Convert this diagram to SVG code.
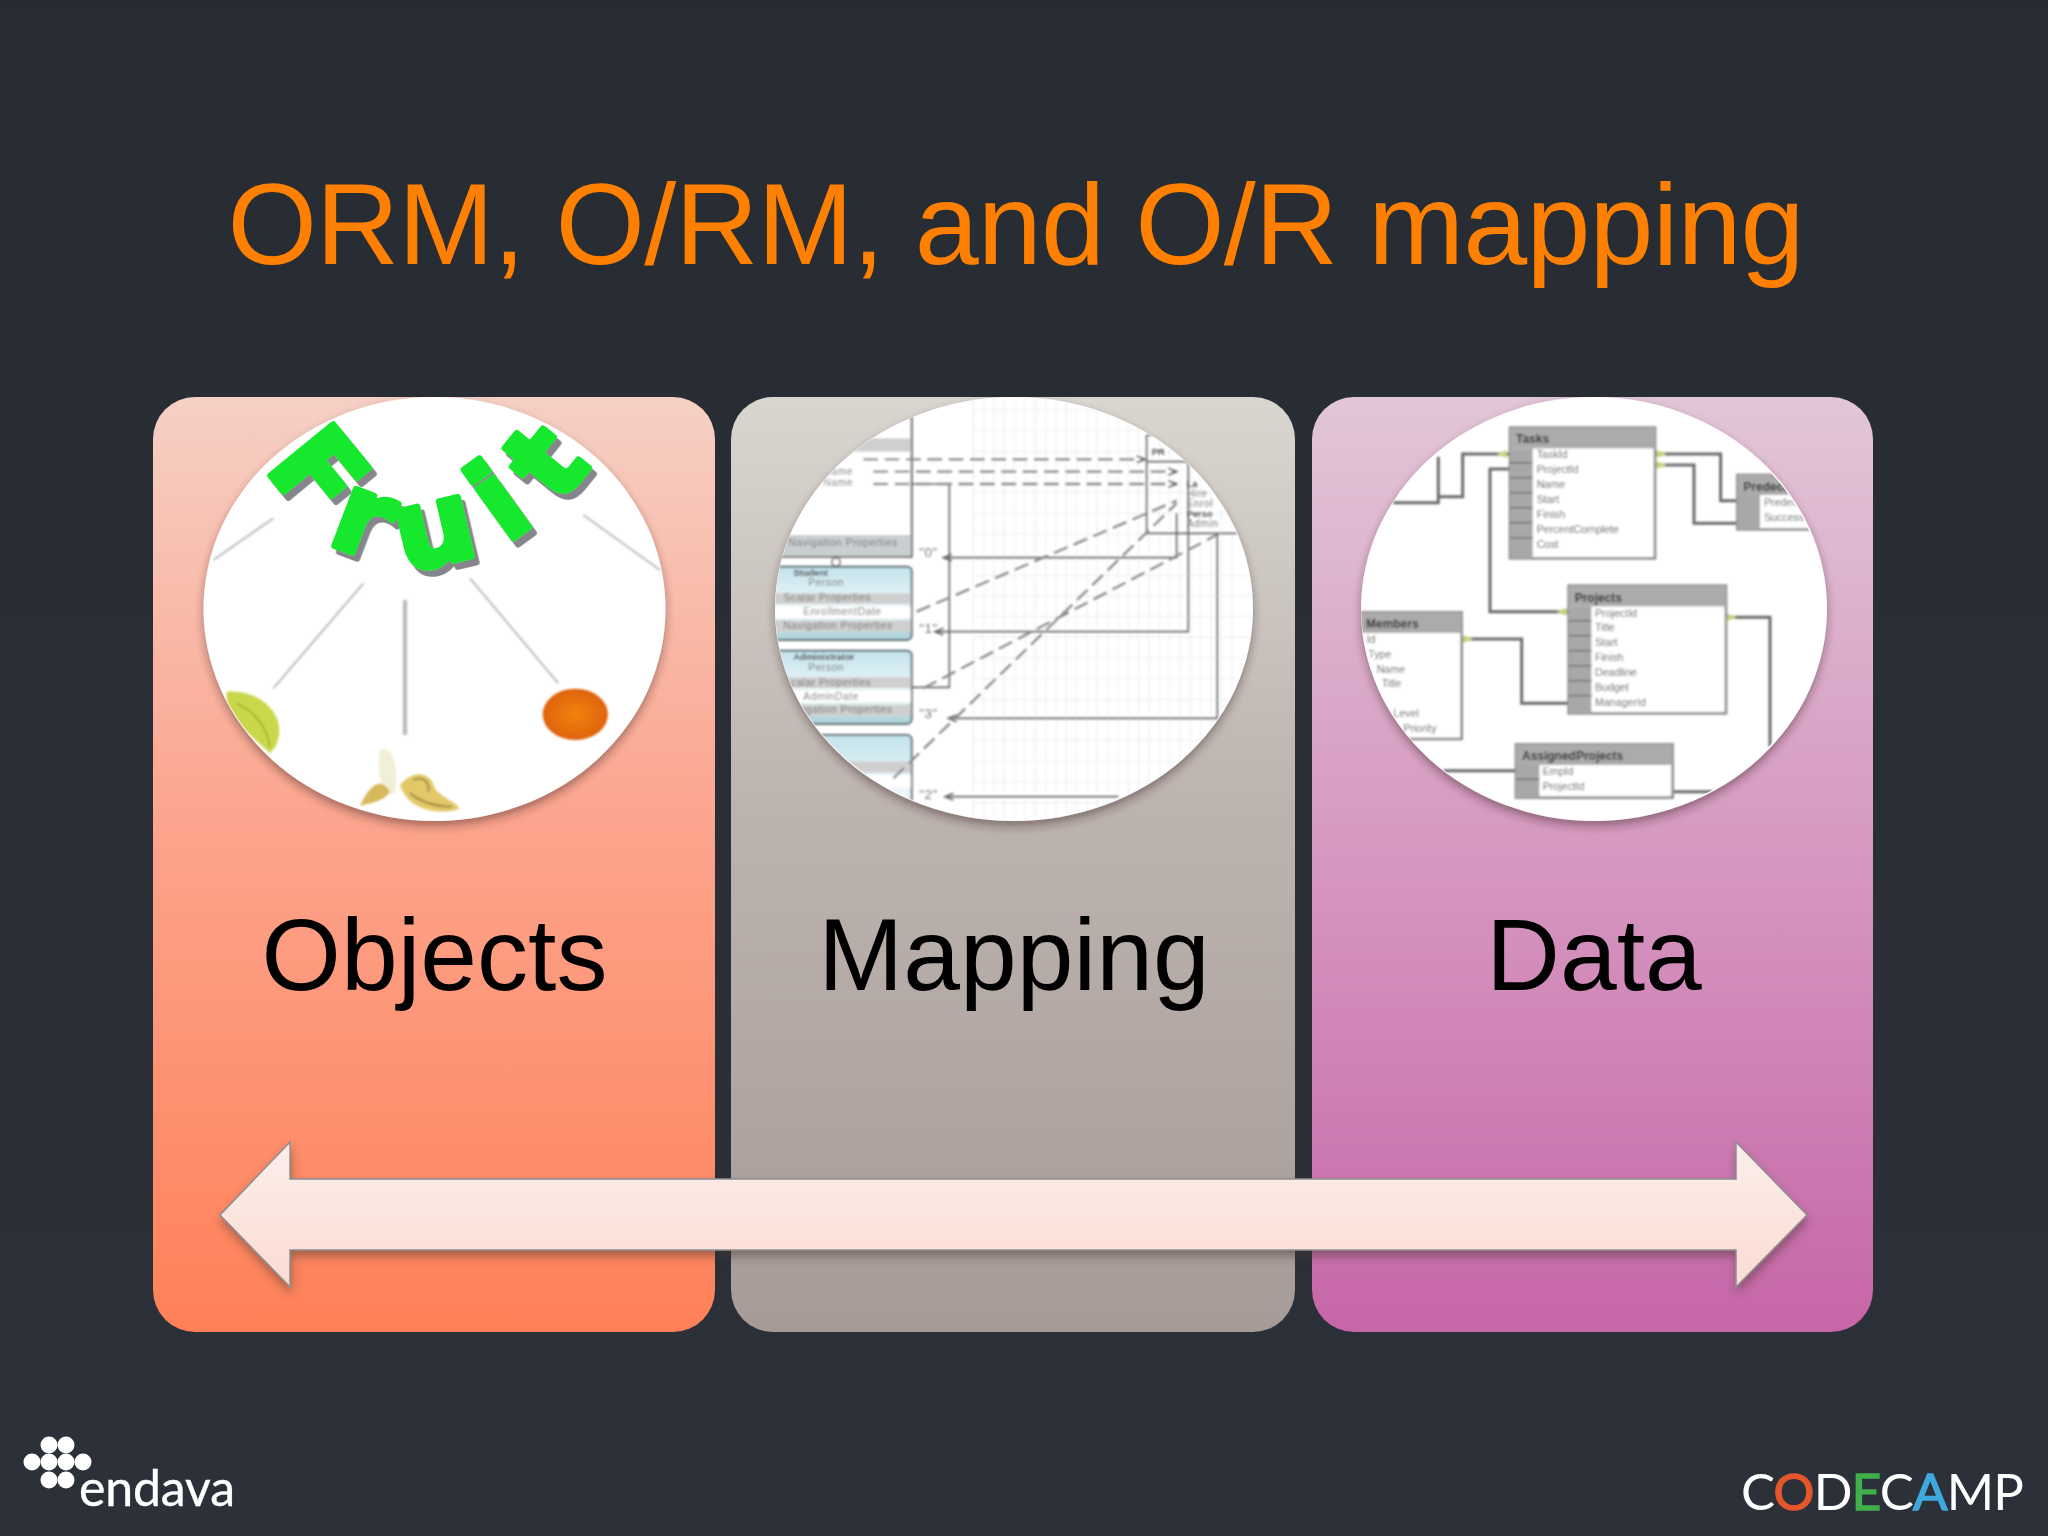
<svg xmlns="http://www.w3.org/2000/svg" width="2048" height="1536" viewBox="0 0 2048 1536">
<style>
.sans{font-family:"Liberation Sans",Arial,sans-serif}
.lbl{font-family:"Liberation Sans",Arial,sans-serif;font-size:102px;fill:#000;text-anchor:middle}
.fl{stroke:#b9bcc0;stroke-width:6;fill:none}
.gr{stroke:#e3e6e8;stroke-width:2;fill:none}
.dk{stroke:#666;stroke-width:5;fill:none}
.ds{stroke:#8a8a8a;stroke-width:7;stroke-dasharray:44 20;fill:none}
.m{font-family:"Liberation Sans",Arial,sans-serif;font-size:31px;letter-spacing:1.5px;fill:#777}
.mb{font-family:"Liberation Sans",Arial,sans-serif;font-size:28px;font-weight:bold;fill:#444}
.q{font-size:40px}
.tb{fill:#fff;stroke:#8f8f8f;stroke-width:8}
.hd{fill:#ababab}
.col{fill:#a8a8a8}
.ln{stroke:#6a6a6a;stroke-width:9;fill:none}
.t{font-family:"Liberation Sans",Arial,sans-serif;font-size:32px;fill:#5f5f5f}
.th{font-family:"Liberation Sans",Arial,sans-serif;font-size:36px;font-weight:bold;fill:#2f2f2f}
</style>
<defs>
<linearGradient id="bg" x1="0" y1="0" x2="0" y2="1"><stop offset="0" stop-color="#272c33"/><stop offset="1" stop-color="#2c3039"/></linearGradient>
<linearGradient id="g1" x1="0" y1="0" x2="0" y2="1"><stop offset="0" stop-color="#f6d0c5"/><stop offset=".45" stop-color="#fca58e"/><stop offset="1" stop-color="#ff8057"/></linearGradient>
<linearGradient id="g2" x1="0" y1="0" x2="0" y2="1"><stop offset="0" stop-color="#d9d6cf"/><stop offset=".45" stop-color="#bcb2ae"/><stop offset="1" stop-color="#a69b97"/></linearGradient>
<linearGradient id="g3" x1="0" y1="0" x2="0" y2="1"><stop offset="0" stop-color="#e2c6d8"/><stop offset=".45" stop-color="#d79cc2"/><stop offset="1" stop-color="#c766a8"/></linearGradient>
<linearGradient id="ga" x1="0" y1="0" x2="0" y2="1"><stop offset="0" stop-color="#fbeeea"/><stop offset="1" stop-color="#fcdcd3"/></linearGradient>
<linearGradient id="gb" x1="0" y1="0" x2="0" y2="1"><stop offset="0" stop-color="#c3e3ec"/><stop offset=".6" stop-color="#f0f8fa"/><stop offset="1" stop-color="#a9cfd6"/></linearGradient>
<radialGradient id="go" cx=".5" cy=".5" r=".55"><stop offset="0" stop-color="#f08412"/><stop offset="1" stop-color="#dd5f08"/></radialGradient>
<filter id="ps" x="-10%" y="-10%" width="120%" height="120%"><feDropShadow dx="0" dy="5" stdDeviation="5" flood-color="#3a2020" flood-opacity=".45"/></filter>
<filter id="as" x="-5%" y="-20%" width="110%" height="140%"><feDropShadow dx="1" dy="6" stdDeviation="5" flood-color="#40302c" flood-opacity=".45"/></filter>
<filter id="bl" x="-5%" y="-5%" width="110%" height="110%"><feGaussianBlur stdDeviation="2.4"/></filter>
<filter id="fs" x="-10%" y="-10%" width="120%" height="120%"><feDropShadow dx="14" dy="18" stdDeviation="1" flood-color="#85858c" flood-opacity="1"/></filter>
<clipPath id="c1"><ellipse cx="764" cy="686" rx="692" ry="634"/></clipPath>
<clipPath id="c2"><ellipse cx="762" cy="686" rx="716" ry="634"/></clipPath>
<clipPath id="c3"><ellipse cx="760" cy="686" rx="696" ry="634"/></clipPath>
<path id="arc" d="M 262 255 C 380 470 560 590 780 550 C 960 520 1130 420 1280 190"/>
</defs>

<rect id="background" width="2048" height="1536" fill="url(#bg)"/>

<text id="title" class="sans" x="1016" y="264" font-size="115" text-anchor="middle" fill="#ff8000" textLength="1577" lengthAdjust="spacing">ORM, O/RM, and O/R mapping</text>

<g id="panel-objects">
<rect x="153" y="397" width="562" height="935" rx="42" fill="url(#g1)"/>
<g filter="url(#ps)"><ellipse cx="434.5" cy="609" rx="231" ry="212" fill="#fff"/></g>
<g transform="translate(180 380) scale(.33333)" clip-path="url(#c1)">
<g filter="url(#bl)">
<path class="fl" d="M100 540 280 415M280 925 550 610M1210 405 1440 570M870 595 1135 910"/>
<path class="fl" style="stroke-width:13" d="M675 660V1065"/>
<path d="M140 935C225 930 295 980 298 1050C298 1085 285 1105 270 1120L140 1000Z" fill="#c9d84c"/>
<path d="M170 970C220 990 260 1040 270 1100" stroke="#a4b52c" stroke-width="6" fill="none"/>
<ellipse cx="1186" cy="1003" rx="98" ry="77" fill="url(#go)"/>
<path d="M600 1110C645 1095 655 1170 645 1240C620 1255 585 1200 600 1110Z" fill="#f2efd8"/>
<path d="M540 1278C565 1222 600 1185 630 1235C612 1265 570 1268 540 1278Z" fill="#d7b85a"/>
<path d="M660 1215C700 1165 755 1175 765 1228C795 1258 832 1268 838 1287C780 1305 685 1295 660 1215Z" fill="#e3c868"/>
<path d="M700 1200C730 1185 750 1210 745 1235M690 1240C730 1270 780 1280 815 1280" stroke="#a08a42" stroke-width="6" fill="none"/>
</g>
<g filter="url(#fs)"><text font-family="'DejaVu Sans',sans-serif" font-weight="bold" font-size="335" fill="#14e82e" stroke="#14e82e" stroke-width="18" stroke-linejoin="round"><textPath href="#arc" letter-spacing="78">Fruit</textPath></text></g>
</g>
<text class="lbl" x="434.5" y="990">Objects</text>
</g>

<g id="panel-mapping">
<rect x="731" y="397" width="564" height="935" rx="42" fill="url(#g2)"/>
<g filter="url(#ps)"><ellipse cx="1014" cy="609" rx="239" ry="212" fill="#fff"/></g>
<g transform="translate(760 380) scale(.33333)" clip-path="url(#c2)">
<g filter="url(#bl)">
<path class="gr" d="M640 50V1320M671 50V1320M702 50V1320M733 50V1320M764 50V1320M795 50V1320M826 50V1320M857 50V1320M888 50V1320M919 50V1320M950 50V1320M981 50V1320M1012 50V1320M1043 50V1320M1074 50V1320M1105 50V1320M1136 50V1320M1167 50V1320M1198 50V1320M1229 50V1320M1260 50V1320M1291 50V1320M1322 50V1320M1353 50V1320M1384 50V1320M1415 50V1320"/>
<path class="gr" d="M640 90H1480M640 152H1480M640 214H1480M640 338H1480M640 400H1480M640 462H1480M640 586H1480M640 648H1480M640 710H1480M640 772H1480M640 834H1480M640 896H1480M640 958H1480M640 1082H1480M640 1144H1480M640 1206H1480M640 1268H1480"/>
<rect x="0" y="110" width="455" height="420" fill="#fff" stroke="#5a5a5a" stroke-width="6"/>
<rect x="0" y="175" width="452" height="40" fill="#cfcfcf"/>
<rect x="0" y="465" width="452" height="62" fill="#c9cfd0"/>
<rect x="0" y="560" width="455" height="220" rx="14" fill="url(#gb)" stroke="#5c6c72" stroke-width="6"/>
<rect x="0" y="640" width="452" height="32" fill="#cfcfcf"/><rect x="0" y="680" width="452" height="36" fill="#fff"/><rect x="0" y="722" width="452" height="32" fill="#cfcfcf"/>
<rect x="0" y="812" width="455" height="220" rx="14" fill="url(#gb)" stroke="#5c6c72" stroke-width="6"/>
<rect x="0" y="892" width="452" height="32" fill="#cfcfcf"/><rect x="0" y="932" width="452" height="36" fill="#fff"/><rect x="0" y="975" width="452" height="32" fill="#cfcfcf"/>
<rect x="0" y="1065" width="455" height="300" rx="14" fill="url(#gb)" stroke="#5c6c72" stroke-width="6"/>
<rect x="0" y="1145" width="452" height="32" fill="#cfcfcf"/><rect x="0" y="1185" width="452" height="38" fill="#fff"/>
<circle cx="228" cy="546" r="12" fill="#fff" stroke="#666" stroke-width="5"/>
<path class="dk" d="M455 312H568V922H455M555 533H1250V400M530 755H1285V245H1160V165M1160 165V460H1430M575 1015H1372V462M560 1250H1075M1160 165H1230"/>
<path class="ds" d="M310 238H1155M340 275H1250M340 312H1250M470 695 1250 362M490 925 1370 465M400 1195 1250 370"/>
<path class="dk" d="M1130 228 1155 238 1130 248M1225 265 1250 275 1225 285M1225 302 1250 312 1225 322M550 745 525 755 550 765M575 523 550 533 575 543M590 1005 565 1015 590 1025M580 1240 555 1250 580 1260"/>
<text class="mb" x="100" y="588" fill="#17505c">Student</text>
<text class="m" x="145" y="618">Person</text>
<text class="m" x="70" y="664">Scalar Properties</text>
<text class="m" x="130" y="706">EnrollmentDate</text>
<text class="m" x="70" y="747">Navigation Properties</text>
<text class="m" x="85" y="499">Navigation Properties</text>
<text class="mb" x="100" y="841" fill="#17505c">Administrator</text>
<text class="m" x="145" y="872">Person</text>
<text class="m" x="70" y="918">Scalar Properties</text>
<text class="m" x="130" y="960">AdminDate</text>
<text class="m" x="70" y="1000">Navigation Properties</text>
<text class="m" x="190" y="284">Name</text>
<text class="m" x="190" y="318">Name</text>
<text class="m q" x="478" y="532">"0"</text>
<text class="m q" x="478" y="760">"1"</text>
<text class="m q" x="478" y="1014">"3"</text>
<text class="m q" x="478" y="1256">"2"</text>
<text class="mb" x="1175" y="226">PR</text>
<text class="mb" x="1280" y="320">La</text>
<text class="m" x="1280" y="350">Hire</text>
<text class="m" x="1280" y="380">Enrol</text>
<text class="mb" x="1280" y="412">Perso</text>
<text class="m" x="1280" y="442">Admin</text>
</g>
</g>
<text class="lbl" x="1014" y="990">Mapping</text>
</g>

<g id="panel-data">
<rect x="1312" y="397" width="561" height="935" rx="42" fill="url(#g3)"/>
<g filter="url(#ps)"><ellipse cx="1594" cy="609" rx="233" ry="212" fill="#fff"/></g>
<g transform="translate(1340 380) scale(.33333)" clip-path="url(#c3)">
<g filter="url(#bl)">
<path class="ln" d="M160 368H295V230M295 350H368V222H510M945 222H1142V362H1195M945 255H1062V430H1195M510 267H450V695H686M365 777H545V970H686M1158 712H1290V1100M310 1172H528M998 1235H1120"/>
<path d="M470 222 500 210 500 234ZM980 222 950 210 950 234ZM980 255 950 243 950 267ZM650 695 680 683 680 707ZM400 777 370 765 370 789ZM1190 712 1160 700 1160 724Z" fill="#c9d27a"/>
<rect class="tb" x="510" y="143" width="435" height="392"/><rect class="hd" x="510" y="143" width="435" height="62"/><rect class="col" x="510" y="205" width="68" height="330"/>
<path d="M510 248H578M510 293H578M510 338H578M510 383H578M510 428H578M510 473H578" stroke="#666" stroke-width="4"/>
<text class="th" x="528" y="190">Tasks</text>
<text class="t" x="590" y="235">TaskId</text><text class="t" x="590" y="279">ProjectId</text><text class="t" x="590" y="324">Name</text><text class="t" x="590" y="369">Start</text><text class="t" x="590" y="414">Finish</text><text class="t" x="590" y="459">PercentComplete</text><text class="t" x="590" y="503">Cost</text>
<rect class="tb" x="686" y="617" width="472" height="383"/><rect class="hd" x="686" y="617" width="472" height="62"/><rect class="col" x="686" y="679" width="68" height="321"/>
<path d="M686 722H754M686 767H754M686 812H754M686 857H754M686 902H754M686 947H754" stroke="#666" stroke-width="4"/>
<text class="th" x="704" y="665">Projects</text>
<text class="t" x="765" y="710">ProjectId</text><text class="t" x="765" y="754">Title</text><text class="t" x="765" y="799">Start</text><text class="t" x="765" y="844">Finish</text><text class="t" x="765" y="889">Deadline</text><text class="t" x="765" y="934">Budget</text><text class="t" x="765" y="978">ManagerId</text>
<rect class="tb" x="-10" y="697" width="375" height="380"/><rect class="hd" x="-10" y="697" width="375" height="62"/>
<text class="th" x="78" y="744">Members</text>
<text class="t" x="80" y="790">Id</text><text class="t" x="85" y="834">Type</text><text class="t" x="110" y="880">Name</text><text class="t" x="125" y="922">Title</text><text class="t" x="160" y="1012">Level</text><text class="t" x="190" y="1056">Priority</text>
<rect class="tb" x="528" y="1093" width="470" height="160"/><rect class="hd" x="528" y="1093" width="470" height="62"/><rect class="col" x="528" y="1155" width="70" height="98"/>
<path d="M528 1198H598" stroke="#666" stroke-width="4"/>
<text class="th" x="546" y="1140">AssignedProjects</text>
<text class="t" x="608" y="1185">EmpId</text><text class="t" x="608" y="1229">ProjectId</text>
<rect class="tb" x="1192" y="285" width="300" height="163"/><rect class="hd" x="1192" y="285" width="300" height="60"/><rect class="col" x="1192" y="345" width="68" height="103"/>
<text class="th" x="1210" y="333">Predecessors</text>
<text class="t" x="1272" y="378">PredecessorId</text><text class="t" x="1272" y="423">SuccessorId</text>
</g>
</g>
<text class="lbl" x="1594" y="990">Data</text>
</g>

<g id="connectors">
<path id="double-arrow" d="M220 1215 290 1142V1179H1736V1142L1807 1215 1736 1287V1250H290V1287Z" fill="url(#ga)" stroke="#8d8d90" stroke-width="1.5" filter="url(#as)"/>
</g>

<g id="logo-endava">
<g fill="#fff">
<circle cx="49" cy="1445" r="8.5"/><circle cx="66" cy="1445" r="8.5"/>
<circle cx="32" cy="1462" r="8.5"/><circle cx="49" cy="1462" r="8.5"/><circle cx="66" cy="1462" r="8.5"/><circle cx="83" cy="1462" r="8.5"/>
<circle cx="49" cy="1480" r="8.5"/><circle cx="66" cy="1480" r="8.5"/>
</g>
<text x="79" y="1506" font-family="Lato,sans-serif" font-size="50" fill="#fff" stroke="#fff" stroke-width=".4" textLength="156">endava</text>
</g>

<g id="logo-codecamp">
<text x="1741" y="1510" font-family="Lato,sans-serif" font-weight="400" font-size="51" fill="#fff" textLength="283">C<tspan fill="#e4572a" stroke="#e4572a" stroke-width="1.5">O</tspan>D<tspan fill="#3fb04a" stroke="#3fb04a" stroke-width="1.5">E</tspan>C<tspan fill="#3fa9de" stroke="#3fa9de" stroke-width="1.5">A</tspan>MP</text>
</g>
</svg>
